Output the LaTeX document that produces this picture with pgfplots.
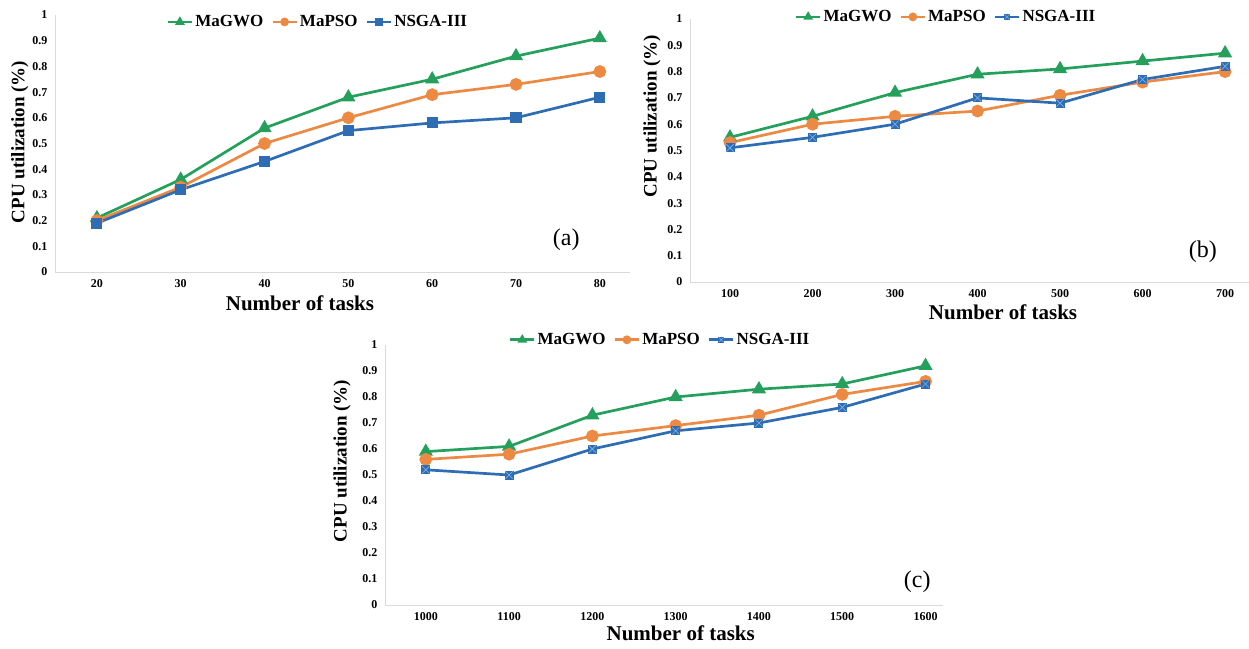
\documentclass[border=0pt]{standalone}
\usepackage{pgfplots}
\pgfplotsset{compat=1.18}
\usepackage{fontspec}
\setmainfont{Liberation Serif}
\definecolor{cgreen}{HTML}{25A05C}
\definecolor{corange}{HTML}{EC8A44}
\definecolor{cblue}{HTML}{2E6DB4}
\definecolor{cbluel}{HTML}{7FB0E6}
\definecolor{axgray}{HTML}{D9D9D9}

\pgfdeclareplotmark{sqx}{%
  \pgfpathrectangle{\pgfqpoint{-\pgfplotmarksize}{-\pgfplotmarksize}}{\pgfqpoint{2\pgfplotmarksize}{2\pgfplotmarksize}}%
  \pgfusepathqfill
  \pgfsetlinewidth{0.6pt}%
  \pgfsetstrokecolor{cbluel}%
  \pgfpathmoveto{\pgfqpoint{-0.8\pgfplotmarksize}{-0.8\pgfplotmarksize}}%
  \pgfpathlineto{\pgfqpoint{0.8\pgfplotmarksize}{0.8\pgfplotmarksize}}%
  \pgfpathmoveto{\pgfqpoint{-0.8\pgfplotmarksize}{0.8\pgfplotmarksize}}%
  \pgfpathlineto{\pgfqpoint{0.8\pgfplotmarksize}{-0.8\pgfplotmarksize}}%
  \pgfusepathqstroke
}

\pgfplotsset{
  cpu/.style={
    scale only axis, clip=false,
    axis x line*=bottom, axis y line*=left,
    axis line style={axgray, line width=0.8pt, -},
    major tick length=0pt,
    ymin=0, ymax=1, ytick={0,0.1,0.2,0.3,0.4,0.5,0.6,0.7,0.8,0.9,1},
    xtick={0,1,2,3,4,5,6},
    tick label style={font=\bfseries\fontsize{12}{12}\selectfont, /pgf/number format/assume math mode=true},
    yticklabel style={/pgf/number format/fixed, /pgf/number format/precision=1, xshift=-4pt},
    xticklabel style={yshift=-4pt},
    xlabel={Number of tasks}, ylabel={CPU utilization (\%)},
    xlabel style={font=\bfseries\fontsize{21}{21}\selectfont, anchor=center},
    ylabel style={font=\bfseries\fontsize{19}{19}\selectfont, anchor=center},
    legend columns=3,
    legend style={draw=none, fill=none, font=\bfseries\fontsize{17}{17}\selectfont, anchor=center,
      /tikz/every even column/.append style={column sep=6pt}},
    legend cell align=left,
    legend image code/.code={\draw[mark repeat=2,mark phase=2,#1] plot coordinates {(0pt,0pt) (12pt,0pt) (24pt,0pt)};},
    every axis plot/.append style={line width=2.7pt},
  },
  gw/.style={cgreen, mark=triangle*, mark size=5.5pt, mark options={solid}},
  ps/.style={corange, mark=*, mark size=5pt, mark options={solid}},
  nsa/.style={cblue, mark=square*, mark size=4.2pt, mark options={solid}},
  nsx/.style={cblue, mark=sqx, mark size=4.5pt, mark options={solid}},
  lgm/.style={legend image post style={mark size=3pt}},
}

\pgfplotstableread{
x aGW aPS aNS bGW bPS bNS cGW cPS cNS
0 0.21 0.20 0.19 0.55 0.53 0.51 0.59 0.56 0.52
1 0.36 0.33 0.32 0.63 0.60 0.55 0.61 0.58 0.50
2 0.56 0.50 0.43 0.72 0.63 0.60 0.73 0.65 0.60
3 0.68 0.60 0.55 0.79 0.65 0.70 0.80 0.69 0.67
4 0.75 0.69 0.58 0.81 0.71 0.68 0.83 0.73 0.70
5 0.84 0.73 0.60 0.84 0.76 0.77 0.85 0.81 0.76
6 0.91 0.78 0.68 0.87 0.80 0.82 0.92 0.86 0.85
}\data

\begin{document}
\begin{tikzpicture}
\useasboundingbox (0pt,0pt) rectangle (1249pt,648pt);
% (a)
\begin{axis}[cpu, lgm, at={(55pt,376pt)}, anchor=south west,
  width=575pt, height=257pt, xmin=-0.50, xmax=6.36,
  xticklabels={20,30,40,50,60,70,80},
  xlabel style={at={(axis description cs:0.426,-0.12)}},
  ylabel style={at={(axis description cs:-0.061,0.506)}},
  legend style={at={(0.457,0.973)}}]
\addplot[gw] table[x=x,y=aGW]{\data};
\addplot[ps] table[x=x,y=aPS]{\data};
\addplot[nsa] table[x=x,y=aNS]{\data};
\legend{MaGWO,MaPSO,NSGA-III}
\node[font=\fontsize{24}{24}\selectfont] at (axis cs:5.6,0.125) {(a)};
\end{axis}
% (b)
\begin{axis}[cpu, lgm, at={(690pt,366pt)}, anchor=south west,
  width=559pt, height=263pt, xmin=-0.485, xmax=6.29,
  xticklabels={100,200,300,400,500,600,700},
  xlabel style={at={(axis description cs:0.56,-0.114)}},
  ylabel style={at={(axis description cs:-0.068,0.63)}},
  legend style={at={(0.458,1.008)}}]
\addplot[gw] table[x=x,y=bGW]{\data};
\addplot[ps] table[x=x,y=bPS]{\data};
\addplot[nsx] table[x=x,y=bNS]{\data};
\legend{MaGWO,MaPSO,NSGA-III}
\node[font=\fontsize{24}{24}\selectfont] at (axis cs:5.73,0.114) {(b)};
\end{axis}
% (c)
\begin{axis}[cpu, lgm, at={(385pt,43pt)}, anchor=south west,
  width=558pt, height=260pt, xmin=-0.49, xmax=6.21,
  xticklabels={1000,1100,1200,1300,1400,1500,1600},
  xlabel style={at={(axis description cs:0.53,-0.108)}},
  ylabel style={at={(axis description cs:-0.077,0.554)}},
  legend style={at={(0.493,1.02)}}]
\addplot[gw] table[x=x,y=cGW]{\data};
\addplot[ps] table[x=x,y=cPS]{\data};
\addplot[nsx] table[x=x,y=cNS]{\data};
\legend{MaGWO,MaPSO,NSGA-III}
\node[font=\fontsize{24}{24}\selectfont] at (axis cs:5.9,0.09) {(c)};
\end{axis}
\end{tikzpicture}
\end{document}
